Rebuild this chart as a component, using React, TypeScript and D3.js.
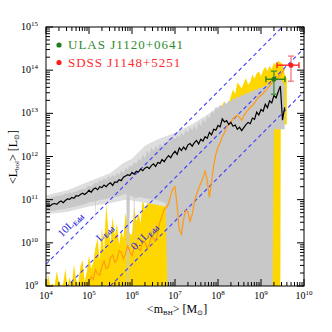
import React from "react";
import * as d3 from "d3";

// ---------- data (log10 units) ----------
// bin centres, log10(m_BH / Msun)
const binLogM = [4.00,4.05,4.10,4.15,4.20,4.25,4.30,4.35,4.40,4.45,4.50,4.55,4.60,4.65,4.70,4.75,4.80,4.85,4.90,4.95,5.00,5.05,5.10,5.15,5.20,5.25,5.30,5.35,5.40,5.45,5.50,5.55,5.60,5.65,5.70,5.75,5.80,5.85,5.90,5.95,6.00,6.05,6.10,6.15,6.20,6.25,6.30,6.35,6.40,6.45,6.50,6.55,6.60,6.65,6.70,6.75,6.80,6.85,6.90,6.95,7.00,7.05,7.10,7.15,7.20,7.25,7.30,7.35,7.40,7.45,7.50,7.55,7.60,7.65,7.70,7.75,7.80,7.85,7.90,7.95,8.00,8.05,8.10,8.15,8.20,8.25,8.30,8.35,8.40,8.45,8.50,8.55,8.60,8.65,8.70,8.75,8.80,8.85,8.90,8.95,9.00,9.05,9.10,9.15,9.20,9.25,9.30,9.35,9.40,9.45,9.50,9.55];

// mean <L_bol>, run 1 (black)
const blackLogL = [10.85,10.88,10.86,10.90,10.91,10.89,10.94,10.97,10.93,10.98,11.02,11.01,11.05,11.03,11.09,11.08,11.12,11.15,11.12,11.16,11.22,11.17,11.24,11.27,11.23,11.30,11.28,11.34,11.30,11.36,11.39,11.33,11.41,11.40,11.46,11.44,11.52,11.55,11.58,11.56,11.63,11.59,11.66,11.64,11.71,11.67,11.73,11.76,11.72,11.79,11.83,11.77,11.86,11.84,11.93,11.88,11.96,12.02,11.97,12.06,12.12,12.05,12.20,12.14,12.22,12.16,12.27,12.30,12.24,12.32,12.37,12.29,12.40,12.36,12.46,12.42,12.56,12.50,12.63,12.61,12.72,12.69,12.87,12.80,12.83,12.74,12.79,12.70,12.73,12.63,12.68,12.60,12.67,12.74,12.79,12.76,12.89,12.86,13.03,12.96,13.09,13.05,13.21,13.13,13.29,13.24,13.41,13.36,13.50,13.63,12.84,13.14];

// upper envelope of the grey dispersion (run 1)
const greyUpLogL = [11.02,11.05,11.04,11.07,11.06,11.09,11.08,11.11,11.10,11.14,11.13,11.17,11.15,11.19,11.18,11.22,11.23,11.26,11.25,11.30,11.32,11.30,11.36,11.40,11.38,11.46,11.42,11.50,11.45,11.55,11.50,11.58,11.53,11.62,11.57,11.68,11.62,11.74,11.70,11.80,11.76,11.88,11.82,11.95,11.90,12.05,11.96,12.15,12.05,12.22,12.12,12.25,12.18,12.30,12.22,12.35,12.28,12.42,12.35,12.45,12.40,12.50,12.44,12.55,12.48,12.62,12.55,12.68,12.60,12.72,12.62,12.80,12.70,12.88,12.78,12.95,12.88,13.05,13.00,13.15,13.10,13.20,13.15,13.25,13.22,13.30,13.26,13.35,13.32,13.40,13.36,13.44,13.40,13.48,13.45,13.52,13.50,13.56,13.54,13.60,13.58,13.62,13.64,13.66,13.68,13.70,13.74,13.76,13.78,13.80,13.74,13.65];

// upper envelope of the yellow dispersion (run 2)
const yellowUpLogL = [9.00,9.25,9.00,9.05,9.00,9.35,9.10,9.00,9.05,9.40,9.00,9.20,9.00,9.50,9.15,9.05,9.45,9.60,9.10,9.35,9.70,9.40,9.55,9.90,10.10,9.60,10.35,9.80,10.90,10.30,10.00,10.60,10.15,10.45,9.95,10.30,10.10,10.70,10.40,10.20,10.20,10.85,10.50,10.70,10.45,11.05,10.75,10.90,11.25,10.95,11.10,11.00,11.20,10.90,11.15,11.40,11.30,11.50,11.60,11.70,11.80,11.90,12.00,12.00,12.10,12.10,12.20,12.20,12.30,12.30,12.40,12.40,12.50,12.50,12.60,12.60,12.70,12.80,12.90,13.00,13.05,13.10,13.20,13.28,13.15,13.22,13.40,13.55,13.45,13.72,13.65,13.58,13.70,13.82,13.66,13.72,13.90,13.80,13.93,13.97,13.86,14.00,14.08,13.98,14.10,14.02,14.18,14.12,14.22,14.18,14.14,13.90];
const yellowEndLogM = [9.60];
const yellowEndLogL = [13.80];
const yellowLoLogM = [4.00, 9.45, 9.46, 9.60];
const yellowLoLogL = [9.00, 9.00, 12.74, 12.74];

// lower envelope of the grey dispersion (run 1)
const greyLoLogM = [4.00,4.10,4.20,4.30,4.40,4.50,4.60,4.70,4.80,4.90,5.00,5.10,5.14,5.15,5.16,5.20,5.30,5.40,5.50,5.60,5.70,5.80,5.87,5.89,5.92,5.95,6.00,6.04,6.05,6.06,6.10,6.20,6.30,6.40,6.50,6.60,6.70,6.78,6.82,9.27,9.30,9.55];
const greyLoLogL = [10.74,10.73,10.75,10.77,10.78,10.80,10.82,10.85,10.87,10.89,10.94,10.95,10.96,10.50,10.96,10.98,11.00,11.02,11.04,11.06,11.08,11.12,11.14,9.00,9.00,11.10,11.08,11.06,9.00,11.05,11.04,11.06,11.03,11.02,11.00,10.98,10.95,10.92,9.00,9.00,12.63,12.63];

// light grey halo round the grey band
const haloUpLogM = [4.00,4.50,5.00,5.50,5.80,6.00,6.30,6.60,7.00,7.40,7.80,8.00,8.10];
const haloUpLogL = [11.10,11.22,11.42,11.62,11.85,11.95,12.25,12.40,12.55,12.75,13.00,13.15,13.20];
const haloLoLogM = [4.00,4.50,5.00,5.50,5.85,6.00,6.80];
const haloLoLogL = [10.66,10.72,10.84,10.92,11.00,10.98,10.84];

// mean <L_bol>, run 2 (orange), from logM = 4.95
const orangeLogL = [9.00,9.10,9.22,9.15,9.38,9.28,9.25,9.45,9.58,9.40,9.44,9.66,9.72,9.55,9.60,9.82,9.78,9.62,9.75,9.93,9.80,9.70,9.90,9.98,9.85,9.82,10.05,10.02,9.88,9.95,10.16,10.10,10.05,10.25,10.49,10.62,10.78,10.82,10.90,11.10,11.25,11.30,10.85,10.30,10.20,10.55,10.75,10.72,10.50,10.65,10.95,11.12,11.26,11.38,11.50,11.66,11.45,11.05,11.42,11.80,12.05,12.22,12.32,12.46,12.55,12.68,12.74,12.80,12.88,12.92,12.96,12.90,12.84,12.94,13.02,13.08,13.14,13.18,13.24,13.32,13.38,13.42,13.46,13.52,13.58,13.64,13.70,13.74,13.80,13.84,13.90,13.96,14.02];
const orangeStartIndex = 19;

// observed quasars: [logM, logM-, logM+, logL, logL-, logL+]
const ulas = [9.30, 9.116, 9.558, 13.79, 13.442, 13.977];
const sdss = [9.698, 9.372, 9.884, 14.116, 13.744, 14.326];

// Eddington lines: log(L/Lsun) = logM + log(3.2e4) + log(f)
const eddLogFactor = [1, 0, -1];
const eddLabelText = ["10L", "L", "0.1L"];
const eddLabelLogM = [4.37, 5.26, 6.07];
const eddLabelLogL = [10.12, 10.02, 9.82];

const xDecades = [4, 5, 6, 7, 8, 9, 10];
const yDecades = [9, 10, 11, 12, 13, 14, 15];

const W = 332, H = 332;
const L = 46, R = 304, T = 27, B = 286;
const FONT = "'Liberation Serif','Times New Roman',serif";

export default function App() {
  const x = d3.scaleLog().domain([1e4, 1e10]).range([L, R]);
  const y = d3.scaleLog().domain([1e9, 1e15]).range([B, T]);
  const p = (v: number) => Math.pow(10, v);
  const zip = (a: number[], b: number[]) => a.map((m, i) => [m, b[i]] as [number, number]);
  const line = d3.line<[number, number]>().x(d => x(p(d[0]))).y(d => y(p(d[1])));
  const band = (up: [number, number][], lo: [number, number][]) =>
    line([...up, ...lo.slice().reverse()]) + "Z";

  const ticks: JSX.Element[] = [];
  xDecades.forEach((d, i) => {
    const xs = [p(d)];
    if (i < xDecades.length - 1) for (let k = 2; k <= 9; k++) xs.push(k * p(d));
    xs.forEach((v, j) => {
      const len = j === 0 ? 7 : 4;
      const px = x(v);
      ticks.push(<line key={`xb${d}-${j}`} x1={px} x2={px} y1={B} y2={B - len} stroke="#000" strokeWidth={1} />);
      ticks.push(<line key={`xt${d}-${j}`} x1={px} x2={px} y1={T} y2={T + len} stroke="#000" strokeWidth={1} />);
    });
  });
  yDecades.forEach((d, i) => {
    const ys = [p(d)];
    if (i < yDecades.length - 1) for (let k = 2; k <= 9; k++) ys.push(k * p(d));
    ys.forEach((v, j) => {
      const len = j === 0 ? 7 : 4;
      const py = y(v);
      ticks.push(<line key={`yl${d}-${j}`} x1={L} x2={L + len} y1={py} y2={py} stroke="#000" strokeWidth={1} />);
      ticks.push(<line key={`yr${d}-${j}`} x1={R} x2={R - len} y1={py} y2={py} stroke="#000" strokeWidth={1} />);
    });
  });

  const eb = (d: number[], c: string, cv: string, key: string) => {
    const cx = x(p(d[0])), cy = y(p(d[3]));
    const x0 = x(p(d[1])), x1 = x(p(d[2]));
    const y0 = y(p(d[4])), y1 = y(p(d[5]));
    return (
      <g key={key}>
        <line x1={cx} x2={cx} y1={y0} y2={y1} stroke={cv} strokeWidth={1.3} />
        <line x1={cx - 3} x2={cx + 3} y1={y0} y2={y0} stroke={cv} strokeWidth={1.3} />
        <line x1={cx - 3} x2={cx + 3} y1={y1} y2={y1} stroke={cv} strokeWidth={1.3} />
        <line x1={x0} x2={x1} y1={cy} y2={cy} stroke={c} strokeWidth={1.3} />
        <line x1={x0} x2={x0} y1={cy - 3} y2={cy + 3} stroke={c} strokeWidth={1.3} />
        <line x1={x1} x2={x1} y1={cy - 3} y2={cy + 3} stroke={c} strokeWidth={1.3} />
        <circle cx={cx} cy={cy} r={2.5} fill={c} />
      </g>
    );
  };

  const yellowUp = [...zip(binLogM, yellowUpLogL), ...zip(yellowEndLogM, yellowEndLogL)];
  const orangePts = zip(binLogM.slice(orangeStartIndex), orangeLogL);

  return (
    <svg width={W} height={H} style={{ position: "absolute", left: 0, top: 0 }} fontFamily={FONT}>
      <rect x={0} y={0} width={W} height={H} fill="#fff" />
      <defs>
        <clipPath id="plot">
          <rect x={L} y={T} width={R - L} height={B - T} />
        </clipPath>
      </defs>
      <g clipPath="url(#plot)">
        <path d={band(yellowUp, zip(yellowLoLogM, yellowLoLogL))} fill="#ffd700" />
        <path d={band(zip(haloUpLogM, haloUpLogL), zip(haloLoLogM, haloLoLogL))} fill="#dedede" />
        <path d={band(zip(binLogM, greyUpLogL), zip(greyLoLogM, greyLoLogL))} fill="#c8c8c8" />
        {eddLogFactor.map(f => (
          <line key={f}
            x1={x(1e4)} y1={y(p(4 + Math.log10(3.2e4) + f))}
            x2={x(1e10)} y2={y(p(10 + Math.log10(3.2e4) + f))}
            stroke="#3c3cff" strokeWidth={1.1} strokeDasharray="4,3" />
        ))}
        <path d={line(orangePts) || ""} fill="none" stroke="#ff9a10" strokeWidth={1.2} />
        <path d={line(zip(binLogM, blackLogL)) || ""} fill="none" stroke="#000" strokeWidth={1.2} />
      </g>
      {eddLabelText.map((t, i) => (
        <text key={i} transform={`translate(${x(p(eddLabelLogM[i]))},${y(p(eddLabelLogL[i]))}) rotate(-45)`} fill="#2a2ae0" fontSize={11}>
          {t}<tspan fontSize={7} dy={2} fontWeight="bold">Edd</tspan>
        </text>
      ))}
      {eb(ulas, "#1e7d1e", "#3a903a", "ulas")}
      {eb(sdss, "#ff1a1a", "#f07878", "sdss")}
      <rect x={L} y={T} width={R - L} height={B - T} fill="none" stroke="#000" strokeWidth={1} />
      {ticks}
      {xDecades.map(d => (
        <text key={`xl${d}`} x={x(p(d))} y={299} textAnchor="middle" fontSize={10} fill="#000">
          10<tspan fontSize={7} dy={-4}>{d}</tspan>
        </text>
      ))}
      {yDecades.map(d => (
        <text key={`yl${d}`} x={38} y={y(p(d)) + 3} textAnchor="end" fontSize={10} fill="#000">
          10<tspan fontSize={7} dy={-4}>{d}</tspan>
        </text>
      ))}
      <text x={177} y={313} textAnchor="middle" fontSize={12} fill="#000">
        &lt;m<tspan fontSize={7} dy={2}>BH</tspan><tspan dy={-2}>&gt; [M</tspan><tspan fontSize={7} dy={2}>⊙</tspan><tspan dy={-2}>]</tspan>
      </text>
      <text transform="translate(17,157) rotate(-90)" textAnchor="middle" fontSize={12} fill="#000">
        &lt;L<tspan fontSize={7} dy={2}>bol</tspan><tspan dy={-2}>&gt; [L</tspan><tspan fontSize={7} dy={2}>⊙</tspan><tspan dy={-2}>]</tspan>
      </text>
      <circle cx={59} cy={45} r={2.6} fill="#1e7d1e" />
      <text x={68} y={48.5} fontSize={13} letterSpacing={1} fill="#2e8b2e">ULAS J1120+0641</text>
      <circle cx={59} cy={62.5} r={2.6} fill="#ff1a1a" />
      <text x={68} y={67} fontSize={13} letterSpacing={1} fill="#ff2a2a">SDSS J1148+5251</text>
    </svg>
  );
}
